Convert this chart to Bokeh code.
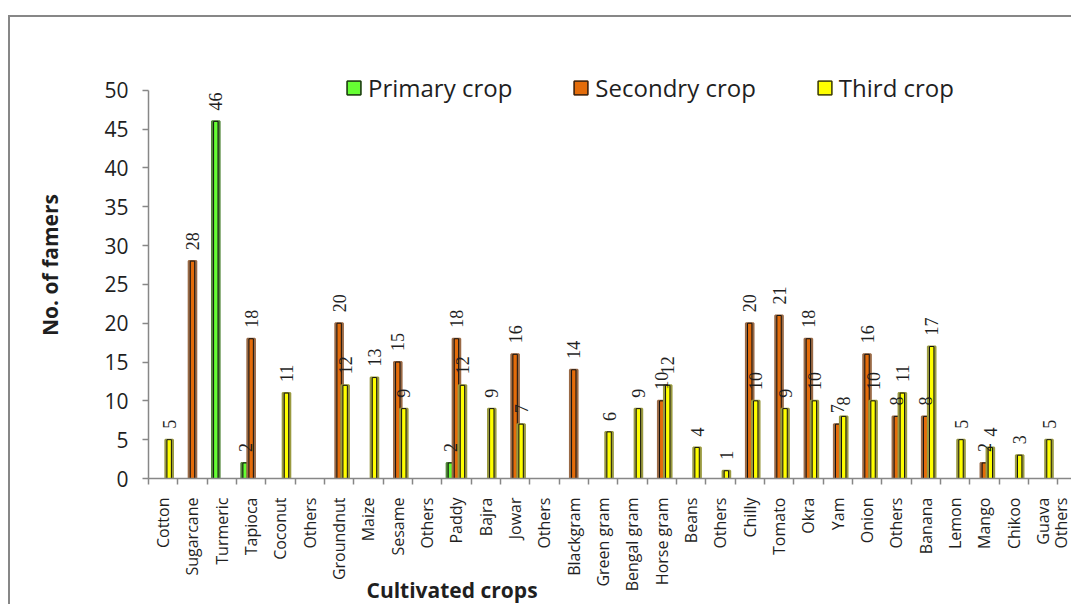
import math
from bokeh.plotting import figure
from bokeh.models import (ColumnDataSource, Range1d, FixedTicker, LabelSet, Legend,
                          LegendItem, Title)
from bokeh.embed import file_html
from bokeh.resources import INLINE

categories = ["Cotton", "Sugarcane", "Turmeric", "Tapioca", "Coconut", "Others",
              "Groundnut", "Maize", "Sesame", "Others", "Paddy", "Bajra", "Jowar",
              "Others", "Blackgram", "Green gram", "Bengal gram", "Horse gram",
              "Beans", "Others", "Chilly", "Tomato", "Okra", "Yam", "Onion", "Others",
              "Banana", "Lemon", "Mango", "Chikoo", "Guava", "Others"]
primary = [0, 0, 46, 2, 0, 0, 0, 0, 0, 0, 2, 0, 0, 0, 0, 0,
           0, 0, 0, 0, 0, 0, 0, 0, 0, 0, 0, 0, 0, 0, 0, 0]
secondary = [0, 28, 0, 18, 0, 0, 20, 0, 15, 0, 18, 0, 16, 0, 14, 0,
             0, 10, 0, 0, 20, 21, 18, 7, 16, 8, 8, 0, 2, 0, 0, 0]
third = [5, 0, 0, 0, 11, 0, 12, 13, 9, 0, 12, 9, 7, 0, 0, 6,
         9, 12, 4, 1, 10, 9, 10, 8, 10, 11, 17, 5, 4, 3, 5, 2]
series_names = ["Primary crop", "Secondry crop", "Third crop"]
fill_colors = ["#66FF33", "#E46C0A", "#FFFF00"]
edge_colors = ["#52883A", "#9A6A46", "#9A9A40"]
offsets = [-0.205, 0.0, 0.205]

FONT = "Open Sans"
AXIS_GRAY = "#878787"
TEXT = "#1f1f1f"

p = figure(width=1063, height=589, output_backend="svg", toolbar_location=None,
           x_range=Range1d(0, 31.54), y_range=Range1d(0, 55),
           min_border_left=138, min_border_top=34, min_border_bottom=128,
           min_border_right=0)
p.styles = {"margin-left": "8px", "margin-top": "15px",
            "border-left": "2px solid #878787", "border-top": "2px solid #878787"}
p.background_fill_color = "white"
p.border_fill_color = "white"
p.outline_line_color = None
p.xgrid.visible = False
p.ygrid.visible = False

items = []
for k, vals in enumerate([primary, secondary, third]):
    xs, ys, txt = [], [], []
    for i, v in enumerate(vals):
        if v:
            xs.append(i + 0.5 + offsets[k])
            ys.append(v)
            txt.append(str(v))
    src = ColumnDataSource(dict(x=xs, top=ys, label=txt))
    outer = p.vbar(x="x", top="top", bottom=0, width=0.26, source=src,
                   fill_color=edge_colors[k], line_color=edge_colors[k], line_width=2)
    inner = p.vbar(x="x", top="top", bottom=0, width=0.15, source=src,
                   fill_color=fill_colors[k], line_color="#111111", line_width=1)
    items.append(LegendItem(label=series_names[k], renderers=[outer, inner]))
    labels = LabelSet(x="x", y="top", text="label", source=src, angle=math.pi / 2,
                      text_align="left", text_baseline="middle", y_offset=11,
                      text_font=FONT, text_font_size="18px", text_color=TEXT)
    p.add_layout(labels)

legend = Legend(items=items, orientation="horizontal", location=(197, 374),
                border_line_alpha=0, background_fill_alpha=0,
                label_text_font=FONT, label_text_font_size="24px",
                label_text_color=TEXT, glyph_width=17, glyph_height=17,
                spacing=60, label_standoff=6, padding=0, margin=0)
p.add_layout(legend)

# x axis
xa = p.xaxis[0]
xa.ticker = FixedTicker(ticks=[i + 0.5 for i in range(len(categories))],
                        minor_ticks=list(range(len(categories) + 1)))
xa.major_label_overrides = {i + 0.5: c for i, c in enumerate(categories)}
xa.major_label_orientation = math.pi / 2
xa.major_tick_out = 0
xa.major_tick_in = 0
xa.minor_tick_out = 6
xa.minor_tick_in = 0
xa.minor_tick_line_color = AXIS_GRAY
xa.minor_tick_line_width = 1.5
xa.axis_line_color = AXIS_GRAY
xa.axis_line_width = 1.5
xa.major_label_standoff = 13
xa.major_label_text_font = FONT
xa.major_label_text_font_size = "16px"
xa.major_label_text_color = TEXT

# y axis
ya = p.yaxis[0]
ya.ticker = FixedTicker(ticks=list(range(0, 51, 5)))
ya.bounds = (0, 50)
ya.minor_tick_line_color = None
ya.major_tick_out = 6
ya.major_tick_in = 0
ya.major_tick_line_color = AXIS_GRAY
ya.major_tick_line_width = 1.5
ya.axis_line_color = AXIS_GRAY
ya.axis_line_width = 1.5
ya.major_label_standoff = 14
ya.major_label_text_font = FONT
ya.major_label_text_font_size = "21px"
ya.major_label_text_color = TEXT
ya.axis_label = "No. of famers"
ya.axis_label_text_font = FONT
ya.axis_label_text_font_size = "21px"
ya.axis_label_text_font_style = "bold"
ya.axis_label_text_color = TEXT
ya.axis_label_standoff = 37

xtitle = Title(text="Cultivated crops", align="left", offset=218, standoff=-38,
               vertical_align="top",
               text_font=FONT, text_font_size="21px", text_font_style="bold",
               text_color=TEXT)
p.add_layout(xtitle, "below")

open("out.html", "w").write(file_html(p, INLINE))
